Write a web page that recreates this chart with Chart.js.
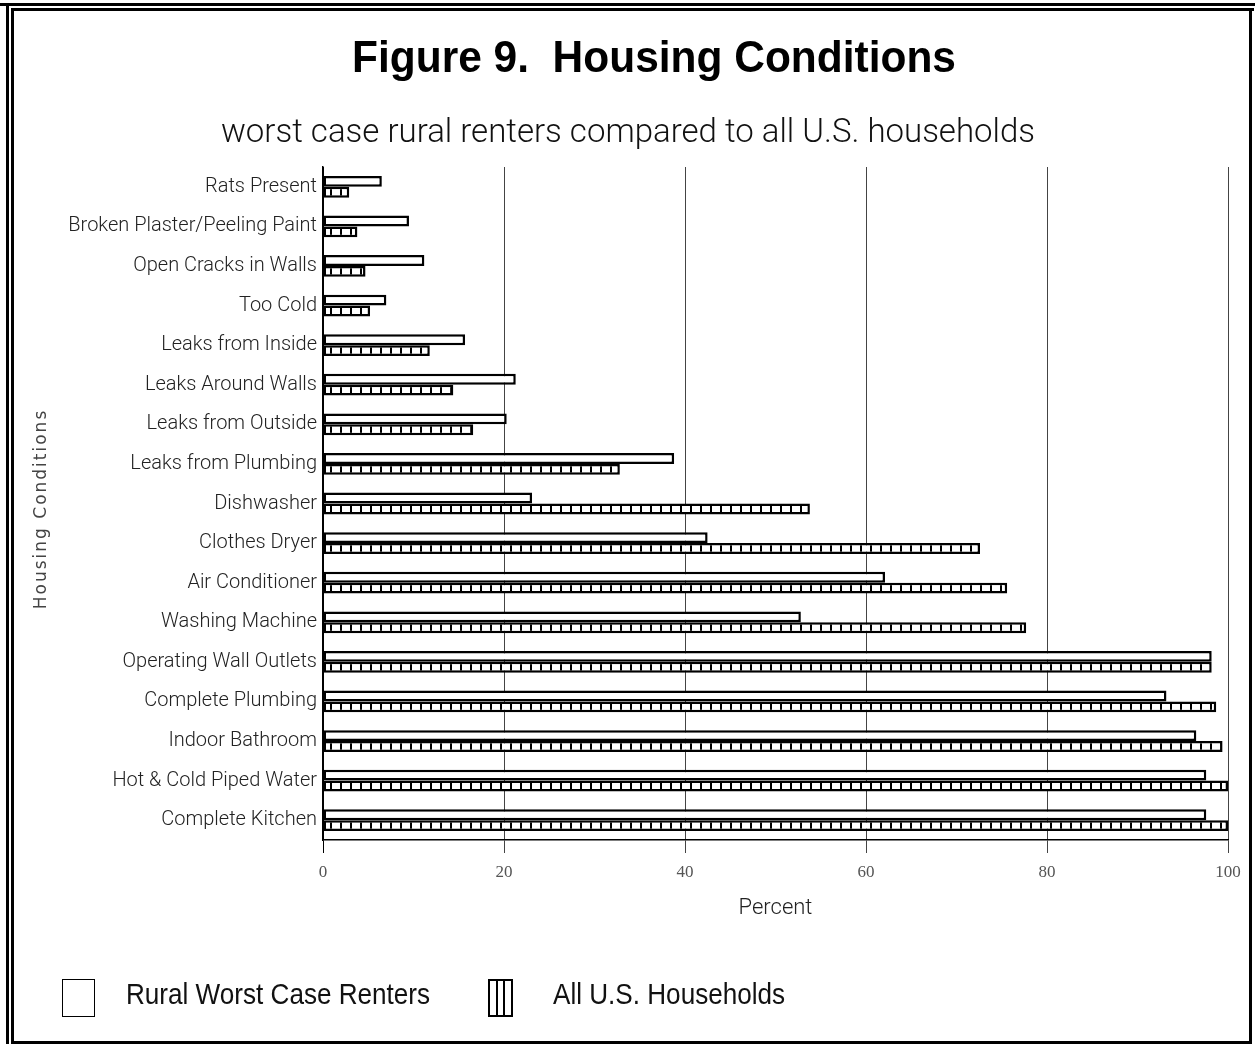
<!DOCTYPE html>
<html>
<head>
    <title>Figure 9. Housing Conditions</title>
    <script src="https://cdn.jsdelivr.net/npm/chart.js"></script>
    <style>
        body { margin: 0; background: #fff; }
        #wrap { width: 1255px; height: 1044px; position: relative; }
    </style>
</head>
<body>
    <div id="wrap"><canvas id="housingChart" width="1255" height="1044"></canvas></div>

    <script>
        // Conditions, listed top to bottom
        var conditions = [
            "Rats Present", "Broken Plaster/Peeling Paint", "Open Cracks in Walls", "Too Cold",
            "Leaks from Inside", "Leaks Around Walls", "Leaks from Outside", "Leaks from Plumbing",
            "Dishwasher", "Clothes Dryer", "Air Conditioner", "Washing Machine",
            "Operating Wall Outlets", "Complete Plumbing", "Indoor Bathroom",
            "Hot & Cold Piped Water", "Complete Kitchen"
        ];

        // Percent of households with each condition
        var ruralRenters = [6.5, 9.5, 11.2, 7.0, 15.7, 21.3, 20.3, 38.8, 23.1, 42.5, 62.1, 52.8, 98.2, 93.2, 96.5, 97.6, 97.6];
        var allHouseholds = [2.9, 3.8, 4.7, 5.2, 11.8, 14.4, 16.6, 32.8, 53.8, 72.6, 75.6, 77.7, 98.2, 98.7, 99.4, 100, 100];

        var percentTicks = [0, 20, 40, 60, 80, 100];

        var seriesNames = ["Rural Worst Case Renters", "All U.S. Households"];

        // ladder fill for the U.S. bars
        function ladderPattern(ctx) {
            var c = document.createElement("canvas");
            c.width = 10; c.height = 10;
            var p = c.getContext("2d");
            p.fillStyle = "#fff";
            p.fillRect(0, 0, 10, 10);
            p.fillStyle = "#000";
            p.fillRect(0, 0, 2, 10);
            return ctx.createPattern(c, "repeat");
        }

        // text squeezed or stretched sideways
        function stretchedText(c, text, x, y, sx) {
            c.save();
            c.translate(x, y);
            c.scale(sx, 1);
            c.fillText(text, 0, 0);
            c.restore();
        }

        var ctx = document.getElementById("housingChart").getContext("2d");

        // frame, headings and legend drawn around the chart
        var decorations = {
            id: "decorations",
            beforeDraw: function(chart) {
                var c = chart.ctx;
                c.save();
                c.fillStyle = "#fff";
                c.fillRect(0, 0, chart.width, chart.height);
                c.fillStyle = "#000";
                // outer double rule
                c.fillRect(0, 3, 1255, 3);
                c.fillRect(6, 3, 3, 1041);
                // inner box
                c.fillRect(11, 8, 1243, 3);
                c.fillRect(11, 8, 3, 1036);
                c.fillRect(1249, 8, 3, 1036);
                c.fillRect(11, 1041, 1241, 3);
                c.restore();
            },
            afterDraw: function(chart) {
                var c = chart.ctx;
                c.save();
                c.fillStyle = "#000";
                c.textAlign = "center";
                c.textBaseline = "alphabetic";
                c.font = "bold 44px 'Liberation Sans', Arial, sans-serif";
                stretchedText(c, "Figure 9.  Housing Conditions", 654, 72, 0.965);
                c.fillStyle = "#111";
                c.font = "300 33px Roboto, sans-serif";
                c.fillText("worst case rural renters compared to all U.S. households", 628, 142);

                // y axis title
                c.save();
                c.translate(42, 509);
                c.rotate(-Math.PI / 2);
                c.fillStyle = "#444";
                c.textBaseline = "middle";
                c.font = "17px 'DejaVu Sans', sans-serif";
                c.letterSpacing = "2px";
                c.fillText("Housing Conditions", 0, 0);
                c.restore();

                // legend
                c.strokeStyle = "#000";
                c.lineWidth = 1;
                c.strokeRect(62.5, 979.5, 32, 37);
                c.lineWidth = 2;
                c.strokeRect(489, 980, 23, 36);
                c.beginPath();
                c.moveTo(497, 980); c.lineTo(497, 1016);
                c.moveTo(504, 980); c.lineTo(504, 1016);
                c.stroke();
                c.textAlign = "left";
                c.textBaseline = "middle";
                c.fillStyle = "#111";
                c.font = "30px 'Liberation Sans', Arial, sans-serif";
                stretchedText(c, chart.data.datasets[0].label, 126, 996, 0.87);
                stretchedText(c, chart.data.datasets[1].label, 553, 996, 0.87);
                c.restore();
            }
        };

        var chart = new Chart(ctx, {
            type: "bar",
            data: {
                labels: conditions,
                datasets: [{
                    label: seriesNames[0],
                    data: ruralRenters,
                    backgroundColor: "#fff",
                    borderColor: "#000",
                    borderWidth: 2.5,
                    borderSkipped: false
                }, {
                    label: seriesNames[1],
                    data: allHouseholds,
                    backgroundColor: ladderPattern(ctx),
                    borderColor: "#000",
                    borderWidth: 2.5,
                    borderSkipped: false
                }]
            },
            options: {
                indexAxis: "y",
                responsive: false,
                animation: false,
                layout: { padding: { left: 0, right: 27, top: 167, bottom: 121 } },
                categoryPercentage: 0.55,
                barPercentage: 1,
                plugins: {
                    legend: { display: false },
                    title: { display: false },
                    tooltip: { enabled: false }
                },
                scales: {
                    x: {
                        min: 0,
                        max: 100,
                        afterBuildTicks: function(scale) {
                            scale.ticks = percentTicks.map(function(v) { return { value: v }; });
                        },
                        afterFit: function(scale) { scale.height = 83; },
                        grid: {
                            color: function(c) { return c.tick && c.tick.value === 0 ? "#000" : "#444"; },
                            lineWidth: 1,
                            tickLength: 13
                        },
                        border: { display: true, color: "#000", width: 1.5 },
                        ticks: {
                            padding: 9,
                            color: "#555",
                            font: { family: "'Liberation Serif', serif", size: 17 }
                        },
                        title: {
                            display: true,
                            text: "Percent",
                            color: "#222",
                            padding: { top: 0, bottom: 1 },
                            font: { family: "Roboto, sans-serif", size: 22, weight: "300" }
                        }
                    },
                    y: {
                        afterFit: function(scale) { scale.width = 323; },
                        grid: { display: false, drawTicks: false },
                        border: { display: true, color: "#000", width: 1.5 },
                        ticks: {
                            padding: 6,
                            color: "#222",
                            font: { family: "Roboto, sans-serif", size: 20, weight: "300" }
                        }
                    }
                }
            },
            plugins: [decorations]
        });
    </script>
</body>
</html>
